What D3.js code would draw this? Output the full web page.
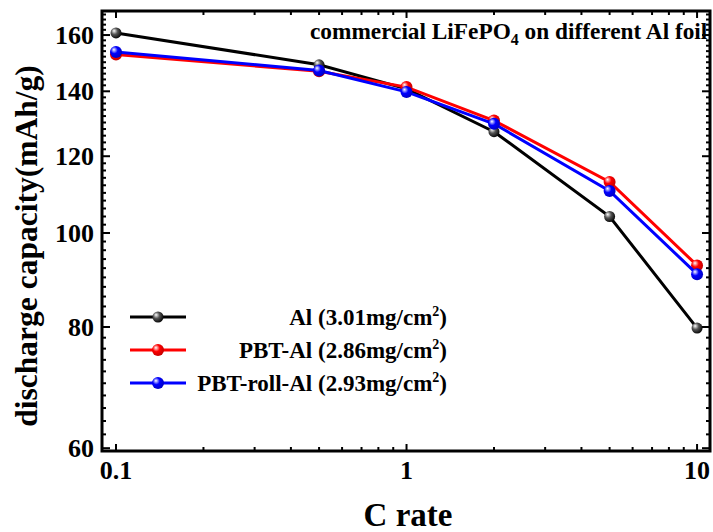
<!DOCTYPE html>
<html>
    <head>
        <script src="https://d3js.org/d3.v7.js"></script>
        <style>
            body{
                margin: 0;
                background: white;
            }
            text{
                font-family: 'Liberation Serif', 'Times New Roman', serif;
                font-weight: bold;
                fill: black;
            }
        </style>
    </head>
    <body>
        <div class='graph'>
            <script>
                // data
                const cRate = [0.1, 0.5, 1, 2, 5, 10]
                const al = [160.8, 149.1, 140.8, 127.2, 104.0, 79.8]
                const pbtAl = [152.8, 146.8, 141.4, 130.6, 112.9, 92.6]
                const pbtRollAl = [153.7, 147.1, 139.8, 129.6, 110.5, 90.7]

                const seriesNames = ['Al (3.01mg/cm', 'PBT-Al (2.86mg/cm', 'PBT-roll-Al (2.93mg/cm']
                const seriesColours = ['#000000', '#ff0000', '#0000ff']
                const seriesValues = [al, pbtAl, pbtRollAl]

                const xTicks = [0.1, 1, 10]
                const yTicks = [60, 80, 100, 120, 140, 160]

                const w = 713
                const h = 532
                const plotL = 102, plotR = 710, plotT = 11, plotB = 451

                const svg = d3.select('.graph')
                        .append('svg')
                        .attr('width', w)
                        .attr('height', h)

                const x = d3.scaleLog()
                            .domain([0.0895, 11.08])
                            .range([plotL, plotR])

                const y = d3.scaleLog()
                            .domain([59.6, 169.4])
                            .range([plotB, plotT])

                // sphere-looking markers
                const defs = svg.append('defs')
                seriesColours.forEach((c, i) => {
                    const g = defs.append('radialGradient')
                                  .attr('id', 'ball' + i)
                                  .attr('cx', '40%').attr('cy', '40%')
                                  .attr('fx', '32%').attr('fy', '30%')
                                  .attr('r', '65%')
                    g.append('stop').attr('offset', '0%').attr('stop-color', '#ffffff')
                    g.append('stop').attr('offset', '45%').attr('stop-color', i == 0 ? '#555555' : c)
                    g.append('stop').attr('offset', '100%').attr('stop-color', i == 0 ? '#000000' : d3.color(c).darker(0.8))
                })

                // minor ticks
                const xMinor = []
                ;[0.1, 1].forEach(d => { for (let k = 1; k <= 9; k++) xMinor.push(d * k) })
                xMinor.push(10)
                const yMinor = d3.range(60, 169, 2)

                const ticks = svg.append('g')
                                 .attr('stroke', 'black')
                                 .attr('stroke-width', 2)

                xMinor.forEach(d => {
                    const major = xTicks.includes(d)
                    const len = major ? 7 : 4
                    ticks.append('line').attr('x1', x(d)).attr('x2', x(d))
                         .attr('y1', plotB).attr('y2', plotB - len)
                    ticks.append('line').attr('x1', x(d)).attr('x2', x(d))
                         .attr('y1', plotT).attr('y2', plotT + len)
                })

                yMinor.forEach(d => {
                    const major = yTicks.includes(d)
                    const len = major ? 8 : 4
                    ticks.append('line').attr('x1', plotL).attr('x2', plotL + len)
                         .attr('y1', y(d)).attr('y2', y(d))
                    ticks.append('line').attr('x1', plotR).attr('x2', plotR - len)
                         .attr('y1', y(d)).attr('y2', y(d))
                })

                svg.append('rect')
                   .attr('x', plotL)
                   .attr('y', plotT)
                   .attr('width', plotR - plotL)
                   .attr('height', plotB - plotT)
                   .attr('fill', 'none')
                   .attr('stroke', 'black')
                   .attr('stroke-width', 3)

                // tick labels
                svg.selectAll('.xlabel')
                   .data(xTicks)
                   .enter()
                   .append('text')
                   .attr('class', 'xlabel')
                   .attr('x', d => x(d))
                   .attr('y', 479)
                   .attr('text-anchor', 'middle')
                   .style('font-size', '26px')
                   .text(d => d)

                svg.selectAll('.ylabel')
                   .data(yTicks)
                   .enter()
                   .append('text')
                   .attr('class', 'ylabel')
                   .attr('x', 94)
                   .attr('y', d => y(d) + 9)
                   .attr('text-anchor', 'end')
                   .style('font-size', '26px')
                   .text(d => d)

                // axis titles
                svg.append('text')
                   .attr('x', (plotL + plotR) / 2 + 2)
                   .attr('y', 526)
                   .attr('text-anchor', 'middle')
                   .style('font-size', '33px')
                   .text('C rate')

                svg.append('text')
                   .attr('transform', 'translate(37,246) rotate(-90)')
                   .attr('text-anchor', 'middle')
                   .style('font-size', '31.5px')
                   .text('discharge capacity(mAh/g)')

                // annotation
                const note = svg.append('text')
                                .attr('x', 310)
                                .attr('y', 39)
                                .style('font-size', '23.3px')
                note.append('tspan').text('commercial LiFePO')
                note.append('tspan').attr('dy', 6).style('font-size', '16px').text('4')
                note.append('tspan').attr('dy', -6).text(' on different Al foil')

                // series
                const line = d3.line()
                               .x((d, i) => x(cRate[i]))
                               .y(d => y(d))

                seriesValues.forEach((vals, s) => {
                    svg.append('path')
                       .datum(vals)
                       .attr('d', line)
                       .attr('fill', 'none')
                       .attr('stroke', seriesColours[s])
                       .attr('stroke-width', 3)

                    svg.selectAll('.pt' + s)
                       .data(vals)
                       .enter()
                       .append('circle')
                       .attr('class', 'pt' + s)
                       .attr('cx', (d, i) => x(cRate[i]))
                       .attr('cy', d => y(d))
                       .attr('r', s == 0 ? 5.5 : 6)
                       .attr('fill', 'url(#ball' + s + ')')
                })

                // legend
                const legend = svg.selectAll('.legend')
                                  .data(seriesNames)
                                  .enter()
                                  .append('g')
                                  .attr('class', 'legend')
                                  .attr('transform', (d, i) => 'translate(0,' + (317 + i * 33) + ')')

                legend.append('line')
                      .attr('x1', 130).attr('x2', 186)
                      .attr('y1', 0).attr('y2', 0)
                      .attr('stroke', (d, i) => seriesColours[i])
                      .attr('stroke-width', 3)

                legend.append('circle')
                      .attr('cx', 158).attr('cy', 0)
                      .attr('r', (d, i) => i == 0 ? 5.5 : 6)
                      .attr('fill', (d, i) => 'url(#ball' + i + ')')

                const lt = legend.append('text')
                                 .attr('x', 447)
                                 .attr('y', 8)
                                 .attr('text-anchor', 'end')
                                 .style('font-size', '23px')
                lt.append('tspan').text(d => d)
                lt.append('tspan').attr('dy', -9).style('font-size', '14px').text('2')
                lt.append('tspan').attr('dy', 9).text(')')
            </script>
        </div>
    </body>
</html>
